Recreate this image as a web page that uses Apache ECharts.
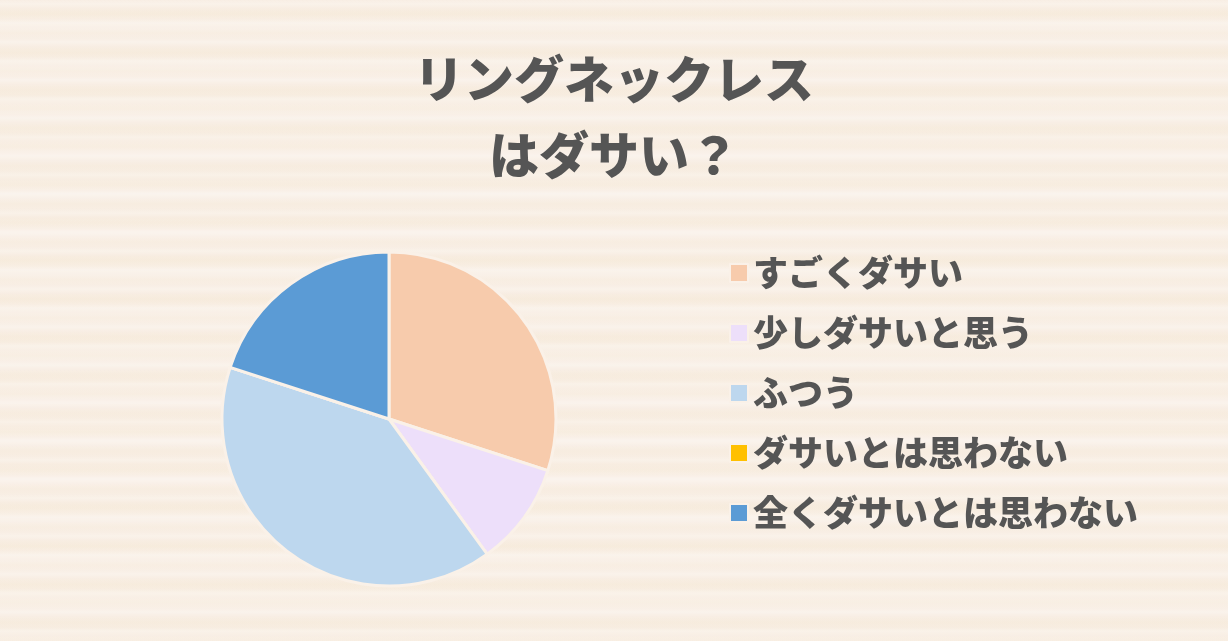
<!DOCTYPE html>
<html>
<head>
<meta charset="utf-8">
<script src="https://cdn.jsdelivr.net/npm/echarts@6/dist/echarts.min.js"></script>
<style>
html,body{margin:0;padding:0;width:1228px;height:641px;overflow:hidden;}
#bg{position:absolute;left:0;top:0;width:1228px;height:641px;
background-color:#f8eee4;
background-image:
 repeating-linear-gradient(180deg, rgba(255,255,255,0.0) 0px, rgba(255,255,255,0.25) 4px, rgba(255,255,255,0) 9px, rgba(242,228,200,0.15) 14px, rgba(255,255,255,0) 19px),
 repeating-linear-gradient(180deg, rgba(250,240,225,0) 0px, rgba(244,230,205,0.18) 13px, rgba(255,250,248,0.2) 29px, rgba(250,240,225,0) 41px);
}
#chart{position:absolute;left:0;top:0;width:1228px;height:641px;}
</style>
</head>
<body>
<div id="bg"></div>
<div id="chart"></div>
<script>
const categories = ['すごくダサい', '少しダサいと思う', 'ふつう', 'ダサいとは思わない', '全くダサいとは思わない'];
const values = [30, 10, 40, 0, 20];
const colors = ['#F7CBAC', '#EDDFFA', '#BDD7EE', '#FFC000', '#5B9BD5'];
const titleText = 'リングネックレス\nはダサい？';

const chart = echarts.init(document.getElementById('chart'), null, {renderer: 'canvas'});
const fontFam = '"Noto Sans CJK JP", "Noto Sans", sans-serif';
chart.setOption({
  backgroundColor: 'transparent',
  title: {
    text: titleText,
    left: 'center',
    top: 36,
    textStyle: {
      fontFamily: fontFam,
      fontSize: 50,
      fontWeight: 900,
      color: '#555555',
      lineHeight: 76
    }
  },
  legend: {
    orient: 'vertical',
    left: 729,
    top: 255,
    padding: 0,
    itemWidth: 18,
    itemHeight: 18,
    itemGap: 24,
    icon: 'rect',
    data: categories,
    textStyle: {
      fontFamily: fontFam,
      fontSize: 35,
      fontWeight: 900,
      color: '#555555',
      lineHeight: 36,
      padding: [0, 0, 0, 0]
    }
  },
  series: [{
    type: 'pie',
    center: [389, 419],
    radius: 167,
    startAngle: 90,
    clockwise: true,
    label: {show: false},
    labelLine: {show: false},
    silent: true,
    itemStyle: {borderColor: '#faf1e8', borderWidth: 3},
    data: categories.map((c, i) => ({name: c, value: values[i], itemStyle: {color: colors[i]}}))
  }]
});
</script>
</body>
</html>
